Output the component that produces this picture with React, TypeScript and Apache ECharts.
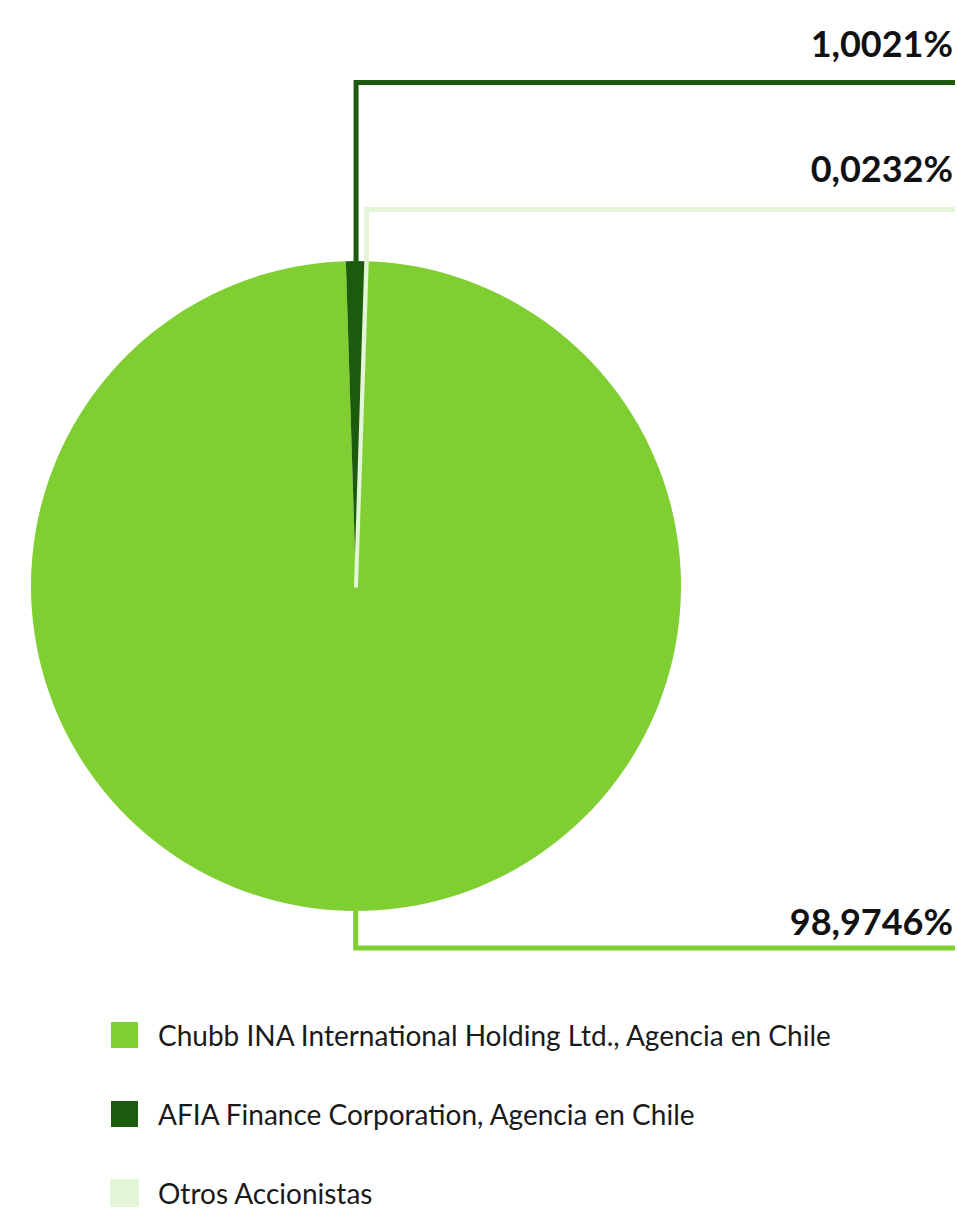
import React, { useEffect, useRef } from "react";
import * as echarts from "echarts";

const categories = [
  "Chubb INA International Holding Ltd., Agencia en Chile",
  "AFIA Finance Corporation, Agencia en Chile",
  "Otros Accionistas",
];
const shares = [98.9746, 1.0021, 0.0232];
const colors = ["#80cf32", "#1c5a0e", "#e2f5d6"];

// layout of the right-hand labels (label centre y, leader line y)
const labelCenterY = [921, 43, 168];
const leaderY = [948, 82.5, 209.5];

const fmt = (v: number) => v.toFixed(4).replace(".", ",") + "%";

export default function App() {
  const ref = useRef<HTMLDivElement>(null);
  useEffect(() => {
    if (!ref.current) return;
    const chart = echarts.init(ref.current, null, { renderer: "svg" });
    chart.setOption({
      animation: false,
      legend: {
        orient: "vertical",
        left: 110,
        top: 1021,
        width: 800,
        height: 260,
        padding: 0,
        itemWidth: 27,
        itemHeight: 26,
        itemGap: 51,
        icon: "rect",
        selectedMode: false,
        data: categories,
        textStyle: {
          fontFamily: "Lato",
          fontSize: 28,
          lineHeight: 26,
          color: "#1a1a1a",
          padding: [0, 0, 0, 15],
        },
      },
      series: [
        {
          type: "pie",
          center: [356, 586],
          radius: [0, 325],
          startAngle: 88.1,
          clockwise: true,
          avoidLabelOverlap: false,
          silent: true,
          data: categories.map((name, i) => ({
            name,
            value: shares[i],
            itemStyle: {
              color: colors[i],
              borderColor: colors[i],
              borderWidth: i === 2 ? 4 : 0,
            },
          })),
          label: {
            show: true,
            position: "outside",
            formatter: (p: any) => fmt(p.value),
            fontFamily: "Lato",
            fontWeight: "bold",
            fontSize: 36,
            color: "#111111",
          },
          labelLine: {
            show: true,
            smooth: false,
            lineStyle: { width: 5, join: "miter", cap: "butt" },
          },
          labelLayout: (p: any) => {
            const i = p.dataIndex;
            const start = p.labelLinePoints ? p.labelLinePoints[0] : [356, 261];
            const ly = leaderY[i];
            return {
              x: 953,
              y: labelCenterY[i],
              align: "right",
              verticalAlign: "middle",
              labelLinePoints: [
                [start[0], start[1]],
                [start[0], ly],
                [955, ly],
              ],
            };
          },
        },
      ],
    });
    return () => chart.dispose();
  }, []);
  return (
    <div
      ref={ref}
      style={{ position: "absolute", left: 0, top: 0, width: 958, height: 1208 }}
    />
  );
}
